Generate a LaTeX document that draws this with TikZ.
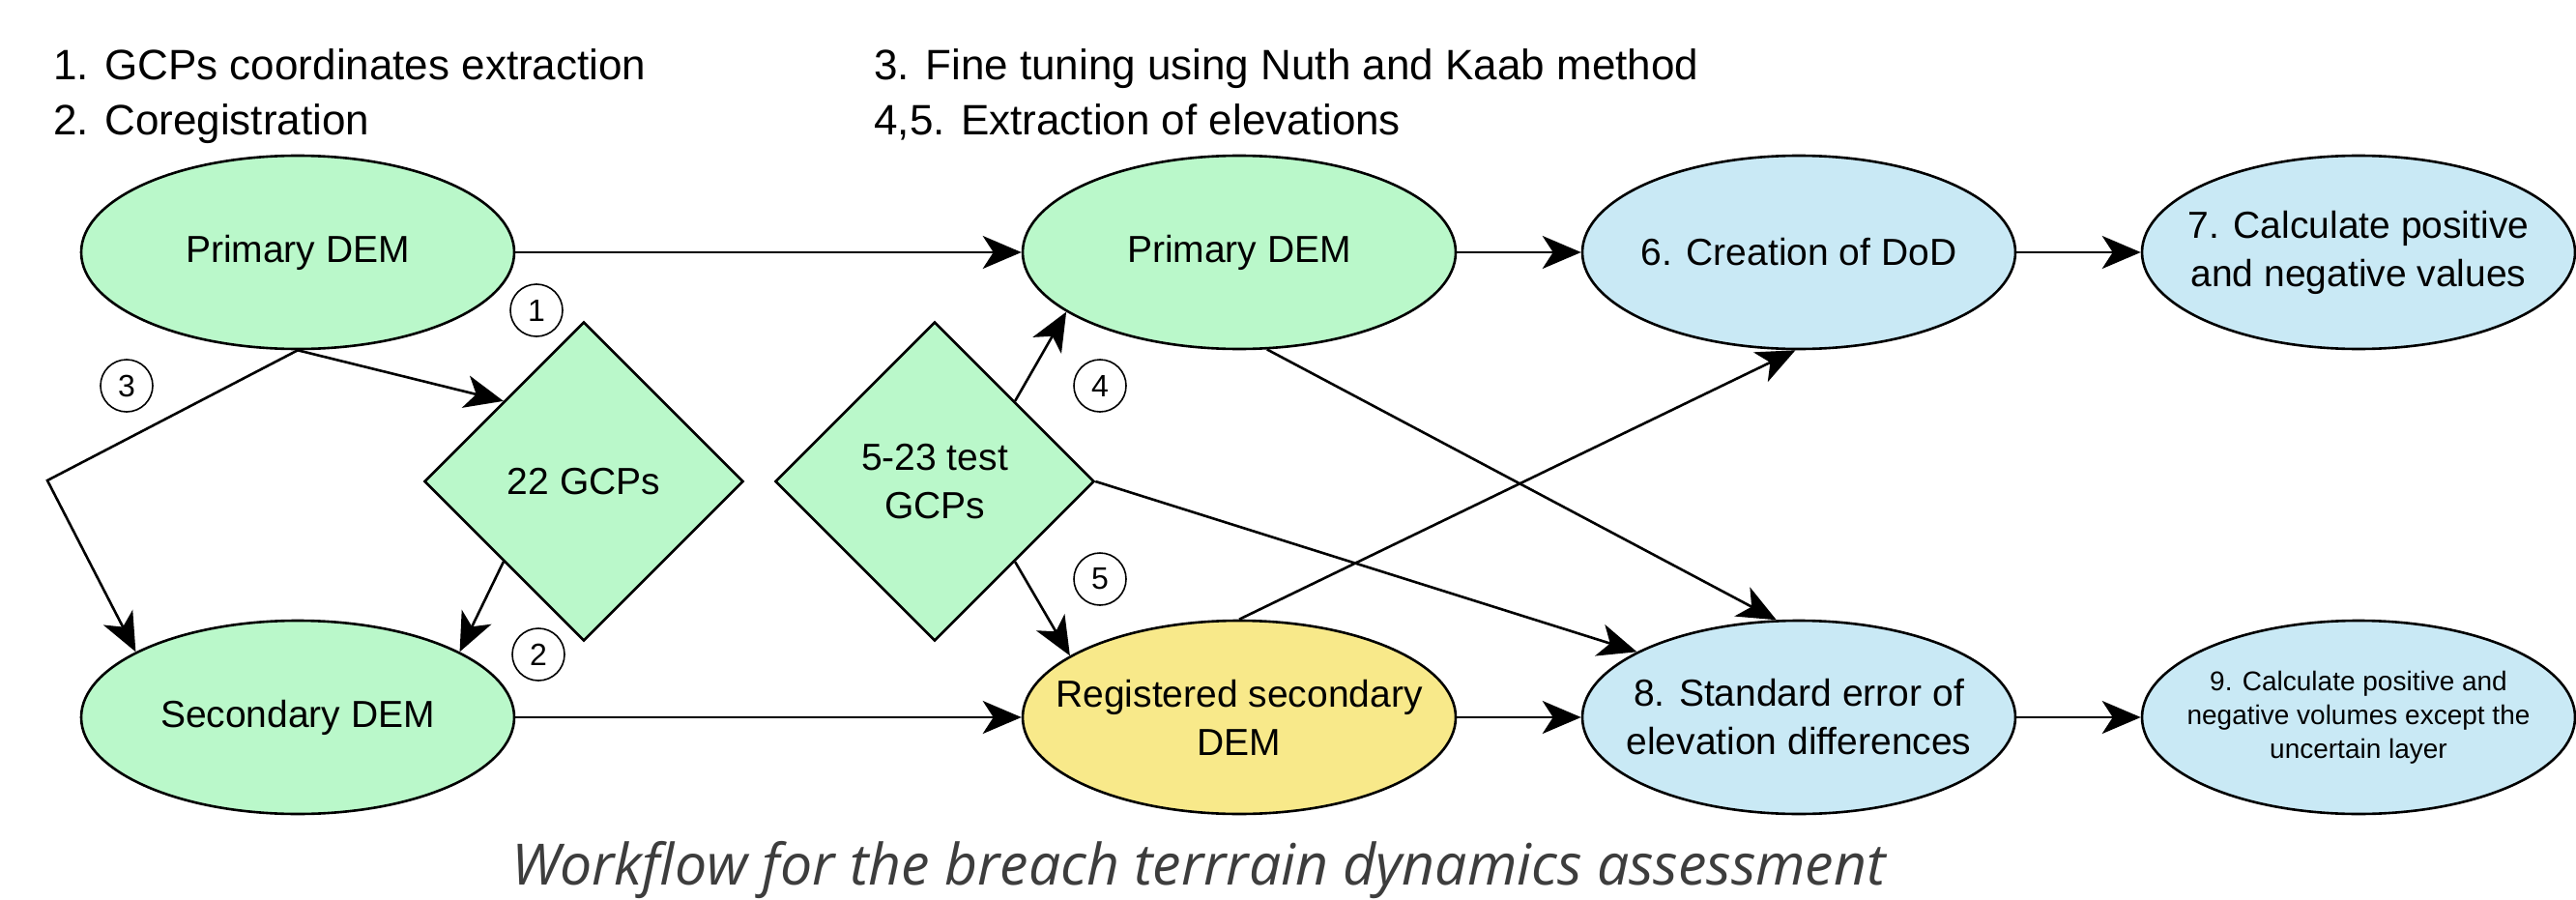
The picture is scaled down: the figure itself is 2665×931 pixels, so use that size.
\documentclass[tikz,border=0pt]{standalone}
\usepackage{fontspec}
\setmainfont{Liberation Sans}
\newfontfamily\capfont{Open Sans}
\usetikzlibrary{arrows.meta,shapes.geometric}

\definecolor{demgreen}{HTML}{BAF8CA}
\definecolor{regyellow}{HTML}{F8E98A}
\definecolor{procblue}{HTML}{C9E9F5}
\definecolor{capgray}{HTML}{3D3D3D}

\tikzset{
  every node/.style={font=\fontsize{19.5pt}{25pt}\selectfont},
  oval/.style={ellipse, draw, line width=1.3pt, minimum width=224pt, minimum height=100pt, inner sep=-20pt, align=center},
  dem/.style={oval, fill=demgreen},
  regdem/.style={oval, fill=regyellow},
  proc/.style={oval, fill=procblue},
  gcp/.style={diamond, draw, fill=demgreen, line width=1.3pt, minimum width=165pt, minimum height=165pt, inner sep=0pt, align=center},
  num/.style={circle, draw, line width=0.8pt, minimum size=27pt, inner sep=0pt, font=\fontsize{16pt}{16pt}\selectfont},
  flow/.style={line width=1.3pt, -{Stealth[length=20pt,width=17pt,inset=5.5pt]}},
  head/.style={anchor=base west, inner sep=0pt, font=\fontsize{22pt}{26pt}\selectfont},
}

\begin{document}
\begin{tikzpicture}[x=0.5pt, y={(0pt,-0.5pt)}]
    \useasboundingbox (0,0) rectangle (2665,931);

    \node[head] (h1) at (55,83) {1. GCPs coordinates extraction};
    \node[head] (h2) at (55,140) {2. Coregistration};
    \node[head] (h3) at (904,83) {3. Fine tuning using Nuth and Kaab method};
    \node[head] (h4) at (904,140) {4,5. Extraction of elevations};

    \node[dem] (pl) at (308,261) {Primary DEM};
    \node[dem] (sd) at (308,742) {Secondary DEM};
    \node[gcp] (g22) at (604,498) {22 GCPs};
    \node[gcp] (gt) at (967,498) {5-23 test\\GCPs};
    \node[dem] (pm) at (1282,261) {Primary DEM};
    \node[regdem] (rd) at (1282,742) {Registered secondary\\DEM};
    \node[proc] (dod) at (1861,261) {6. Creation of DoD};
    \node[proc] (err) at (1861,742) {8. Standard error of\\elevation differences};
    \node[proc] (calc) at (2440,261) {7. Calculate positive\\and negative values};
    \node[proc, font=\fontsize{14pt}{17.5pt}\selectfont] (vol) at (2440,742) {9. Calculate positive and\\negative volumes except the\\uncertain layer};

    \node[num] (n1) at (555,321) {1};
    \node[num] (n2) at (557,677) {2};
    \node[num] (n3) at (131,399) {3};
    \node[num] (n4) at (1138,399) {4};
    \node[num] (n5) at (1138,599) {5};

    \coordinate (bend) at (49,497);

    \draw[flow] (pl) -- (pm);
    \draw[flow] (sd) -- (rd);
    \draw[flow] (pm) -- (dod);
    \draw[flow] (dod) -- (calc);
    \draw[flow] (rd) -- (err);
    \draw[flow] (err) -- (vol);

    \draw[flow] (pl.south) -- (g22.north west);
    \draw[flow] (pl.south) -- (bend) -- (sd.158);
    \draw[flow] (g22.south west) -- (sd.22);

    \draw[flow] (gt.north east) -- (pm.199);
    \draw[flow] (gt.south east) -- (rd.160);
    \draw[flow] (gt.east) -- (err.158);
    \draw[flow] (pm.-74) -- (err.103);
    \draw[flow] (rd.north) -- (dod.-92);

    \node[anchor=base, inner sep=0pt, text=capgray, font=\capfont\itshape\fontsize{29.5pt}{32pt}\selectfont] (cap) at (1240,915) {Workflow for the breach terrrain dynamics assessment};
\end{tikzpicture}
\end{document}
